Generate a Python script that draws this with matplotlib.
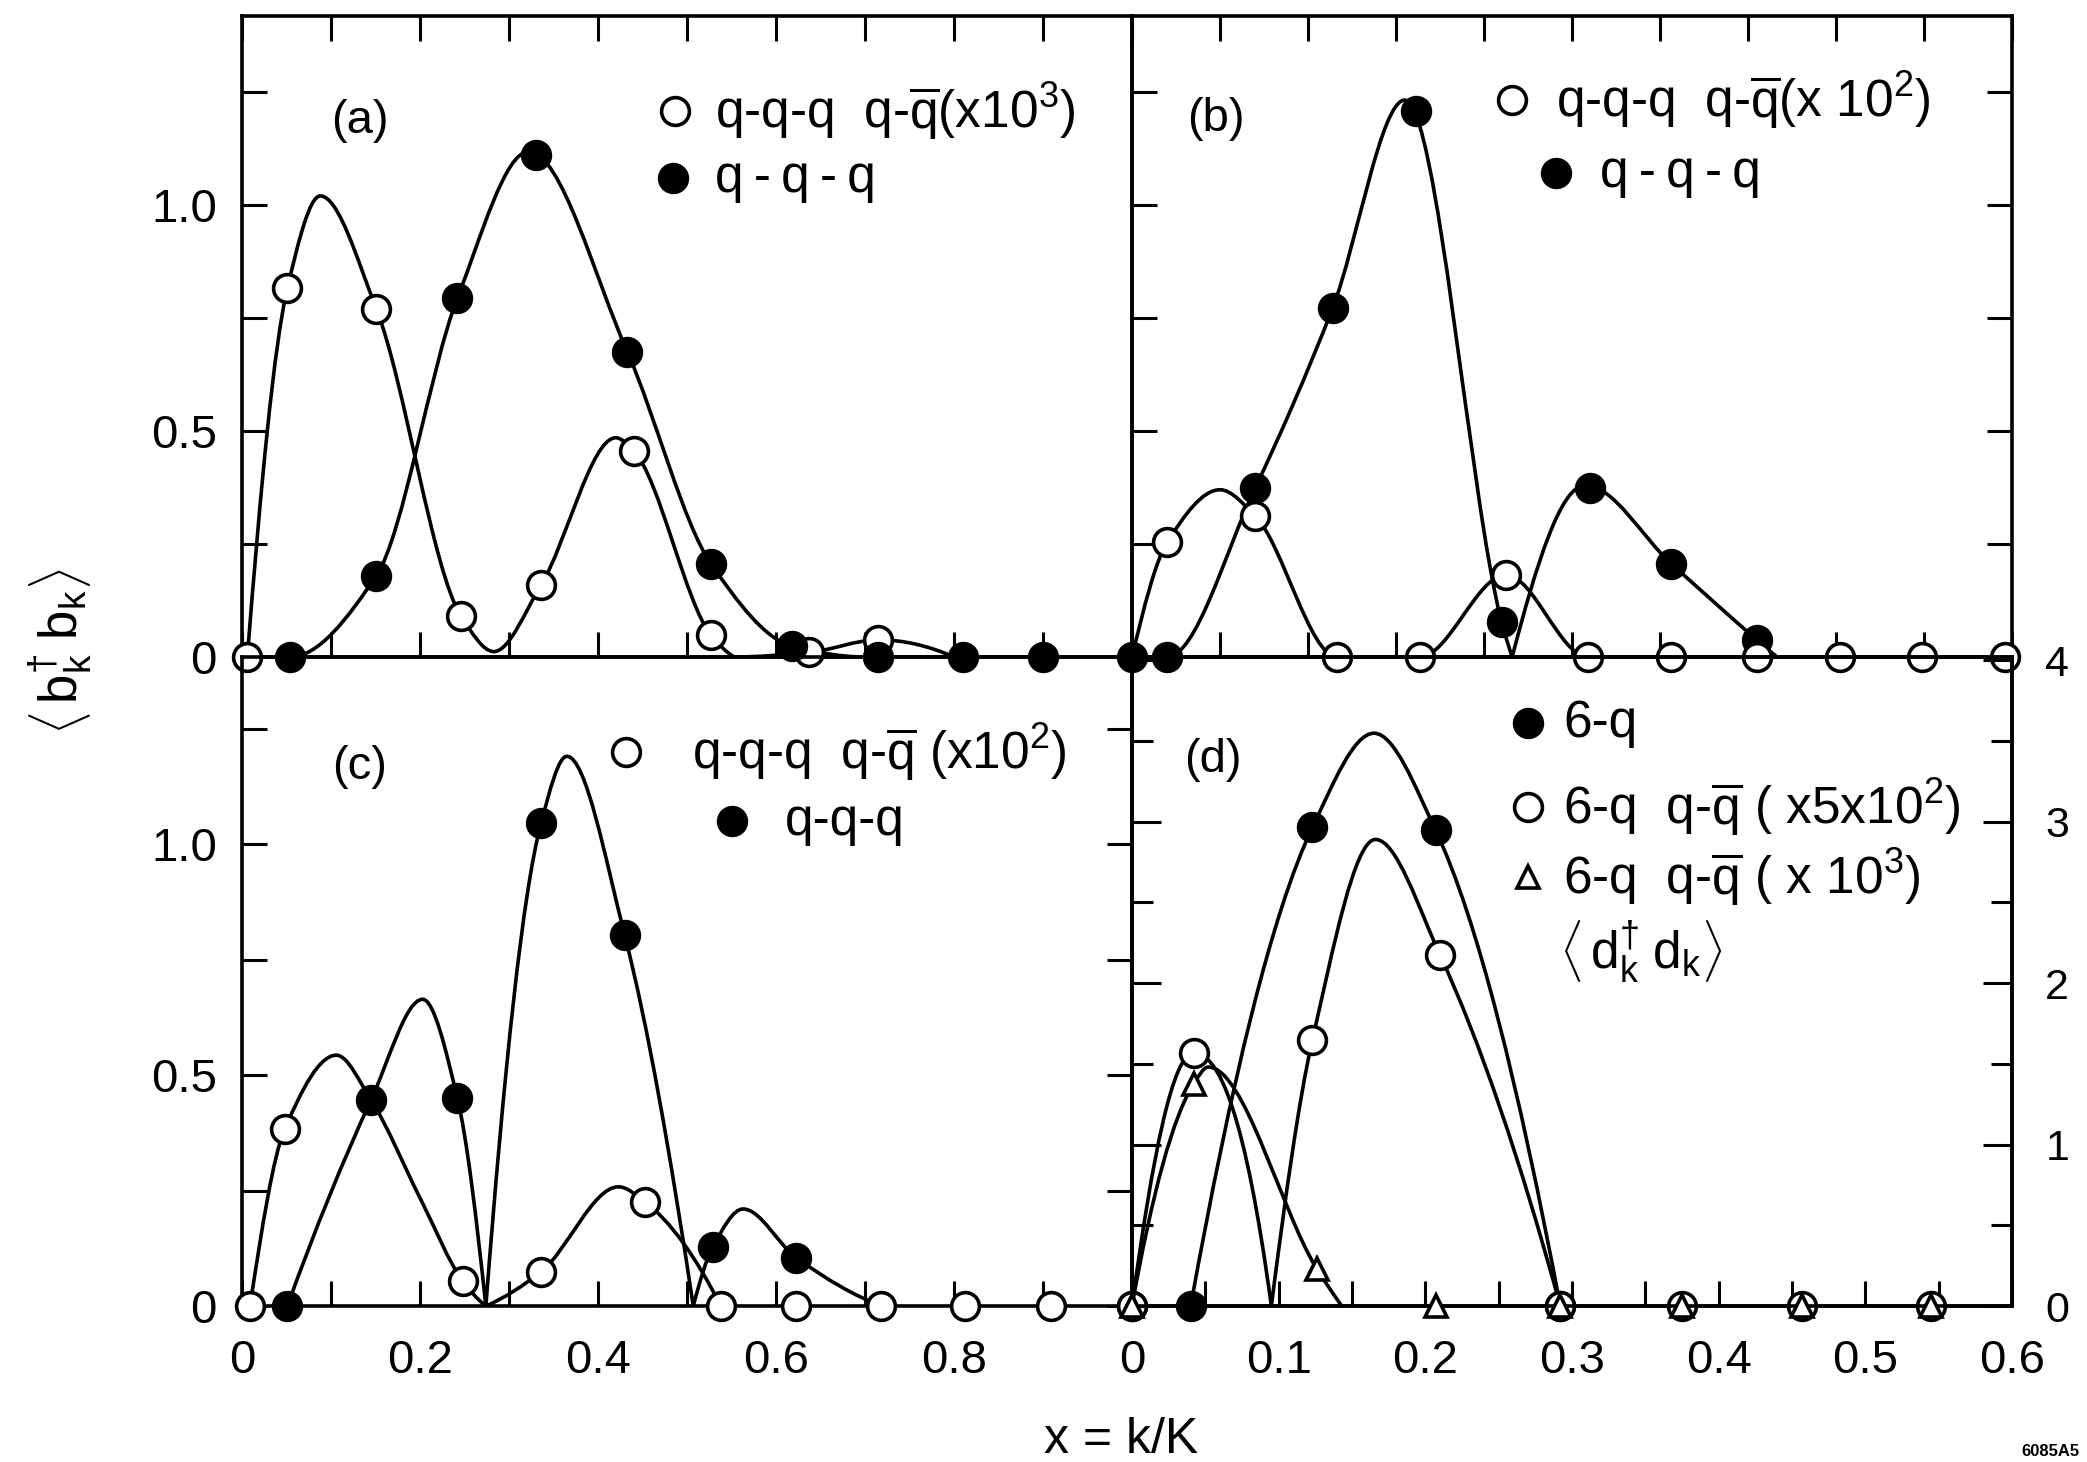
import numpy as np
import matplotlib
matplotlib.use('Agg')
import matplotlib.pyplot as plt
from matplotlib.path import Path
from matplotlib.patches import PathPatch

plt.rcParams['font.family'] = ['Liberation Sans', 'DejaVu Sans']
plt.rcParams['mathtext.fontset'] = 'custom'
plt.rcParams['mathtext.rm'] = 'Liberation Sans'
plt.rcParams['mathtext.it'] = 'Liberation Sans'
plt.rcParams['mathtext.sf'] = 'Liberation Sans'
plt.rcParams['mathtext.default'] = 'regular'

# ---- panel (a): x = k/K from 0 to 1 ----
a_open_x = [0.006, 0.051, 0.151, 0.246, 0.336, 0.44, 0.527, 0.637, 0.715]
a_open_y = [0.0, 0.816, 0.77, 0.091, 0.159, 0.456, 0.048, 0.01, 0.038]
a_open_cx = [0.006, 0.051, 0.088, 0.151, 0.246, 0.283, 0.336, 0.42, 0.44, 0.527, 0.553, 0.637, 0.715, 0.80]
a_open_cy = [0.0, 0.816, 1.02, 0.77, 0.091, 0.012, 0.159, 0.485, 0.456, 0.048, 0.0, 0.01, 0.038, 0.0]
a_fill_x = [0.054, 0.151, 0.242, 0.33, 0.433, 0.527, 0.618, 0.715, 0.81, 0.90]
a_fill_y = [0.0, 0.18, 0.794, 1.11, 0.675, 0.206, 0.024, 0.0, 0.0, 0.0]
a_fill_cx = [0.054, 0.151, 0.242, 0.322, 0.433, 0.527, 0.618, 0.70, 0.90]
a_fill_cy = [0.0, 0.18, 0.794, 1.118, 0.675, 0.206, 0.024, 0.0, 0.0]

# ---- panel (b) ----
b_open_x = [0.04, 0.14, 0.233, 0.327, 0.425, 0.518, 0.612, 0.71, 0.805, 0.898, 0.992]
b_open_y = [0.254, 0.312, 0.0, 0.0, 0.182, 0.0, 0.0, 0.0, 0.0, 0.0, 0.0]
b_open_cx = [0.0, 0.04, 0.1, 0.14, 0.233, 0.327, 0.425, 0.518, 0.992]
b_open_cy = [0.0, 0.254, 0.37, 0.312, 0.0, 0.0, 0.182, 0.0, 0.0]
b_fill_x = [0.0, 0.04, 0.14, 0.228, 0.323, 0.42, 0.52, 0.613, 0.71]
b_fill_y = [0.0, 0.0, 0.374, 0.772, 1.208, 0.077, 0.374, 0.206, 0.038]
b_fill_cx = [0.0, 0.04, 0.14, 0.228, 0.31, 0.42, 0.432, 0.515, 0.613, 0.71, 0.733]
b_fill_cy = [0.0, 0.0, 0.374, 0.772, 1.232, 0.077, 0.0, 0.38, 0.206, 0.038, 0.0]

# ---- panel (c) ----
c_open_x = [0.009, 0.048, 0.248, 0.336, 0.453, 0.538, 0.623, 0.718, 0.812, 0.909]
c_open_y = [0.0, 0.383, 0.054, 0.074, 0.225, 0.0, 0.0, 0.0, 0.0, 0.0]
c_open_cx = [0.009, 0.048, 0.106, 0.145, 0.2, 0.248, 0.274, 0.336, 0.423, 0.453, 0.538]
c_open_cy = [0.0, 0.383, 0.543, 0.446, 0.234, 0.054, 0.0, 0.074, 0.258, 0.225, 0.0]
c_fill_x = [0.051, 0.145, 0.242, 0.336, 0.43, 0.529, 0.623]
c_fill_y = [0.0, 0.446, 0.45, 1.045, 0.803, 0.128, 0.104]
c_fill_cx = [0.051, 0.145, 0.203, 0.242, 0.274, 0.336, 0.365, 0.43, 0.507, 0.529, 0.563, 0.623, 0.72]
c_fill_cy = [0.0, 0.446, 0.664, 0.45, 0.0, 1.045, 1.19, 0.803, 0.0, 0.128, 0.21, 0.104, 0.0]

# ---- panel (d): x from 0 to 0.6, triangles on the right scale (0-4) ----
d_fill_x = [0.0, 0.04, 0.123, 0.207, 0.292]
d_fill_y = [0.0, 0.0, 1.036, 1.03, 0.0]
d_fill_cx = [0.04, 0.123, 0.165, 0.207, 0.292]
d_fill_cy = [0.0, 1.036, 1.24, 1.03, 0.0]
d_open_x = [0.0, 0.042, 0.123, 0.21, 0.292, 0.375, 0.457, 0.545]
d_open_y = [0.0, 0.548, 0.576, 0.76, 0.0, 0.0, 0.0, 0.0]
d_open_cx = [0.0, 0.042, 0.095, 0.123, 0.166, 0.21, 0.292]
d_open_cy = [0.0, 0.548, 0.0, 0.576, 1.01, 0.76, 0.0]
d_tri_x = [0.0, 0.042, 0.126, 0.207, 0.292, 0.375, 0.457, 0.545]
d_tri_y = [0.0, 1.375, 0.23, 0.0, 0.0, 0.0, 0.0, 0.0]
d_tri_cx = [0.0, 0.042, 0.052, 0.126, 0.143]
d_tri_cy = [0.0, 1.375, 1.48, 0.23, 0.0]

LW = 2.6
MS = 20


def end_slope(h0, h1, d0, d1):
    m = ((2 * h0 + h1) * d0 - h0 * d1) / (h0 + h1)
    if np.sign(m) != np.sign(d0):
        return 0.0
    if np.sign(d0) != np.sign(d1) and abs(m) > 3 * abs(d0):
        return 3 * d0
    return m


def slopes(x, y):
    # monotone cubic (Fritsch-Carlson) tangents
    h = np.diff(x)
    d = np.diff(y) / h
    n = len(x)
    if n == 2:
        return np.array([d[0], d[0]])
    m = np.zeros(n)
    for k in range(1, n - 1):
        if d[k - 1] * d[k] > 0:
            w1 = 2 * h[k] + h[k - 1]
            w2 = h[k] + 2 * h[k - 1]
            m[k] = (w1 + w2) / (w1 / d[k - 1] + w2 / d[k])
    m[0] = end_slope(h[0], h[1], d[0], d[1])
    m[-1] = end_slope(h[-1], h[-2], d[-1], d[-2])
    return m


def smooth_curve(ax, cx, cy):
    x = np.asarray(cx, float)
    y = np.asarray(cy, float)
    # break at zeros that sit between two positive values (sharp V)
    cuts = [0]
    for k in range(1, len(x) - 1):
        if y[k] == 0 and y[k - 1] > 0 and y[k + 1] > 0:
            cuts.append(k)
    cuts.append(len(x) - 1)
    verts = [(x[0], y[0])]
    codes = [Path.MOVETO]
    for i0, i1 in zip(cuts[:-1], cuts[1:]):
        px, py = x[i0:i1 + 1], y[i0:i1 + 1]
        m = slopes(px, py)
        for k in range(len(px) - 1):
            h = px[k + 1] - px[k]
            verts += [(px[k] + h / 3, py[k] + m[k] * h / 3),
                      (px[k + 1] - h / 3, py[k + 1] - m[k + 1] * h / 3),
                      (px[k + 1], py[k + 1])]
            codes += [Path.CURVE4] * 3
    ax.add_patch(PathPatch(Path(verts, codes), fill=False, lw=LW,
                           ec='black', zorder=2, capstyle='round'))


def points(ax, x, y, marker='o', filled=False, ms=MS):
    ax.plot(x, y, ls='none', marker=marker, ms=ms,
            mfc='black' if filled else 'white', mec='black', mew=LW,
            clip_on=False, zorder=3)


def key(ax, x, y, marker='o', filled=False, ms=MS):
    ax.plot([x], [y], ls='none', marker=marker, ms=ms,
            mfc='black' if filled else 'white', mec='black', mew=LW,
            transform=ax.transAxes, clip_on=False)


fig = plt.figure(figsize=(20.87, 14.62), dpi=100)
W, H = 2087.0, 1462.0
L, M, R = 242 / W, 1132 / W, 2012 / W
YT, YM, YB = 1 - 16 / H, 1 - 657 / H, 1 - 1306 / H
ax_a = fig.add_axes([L, YM, M - L, YT - YM])
ax_b = fig.add_axes([M, YM, R - M, YT - YM])
ax_c = fig.add_axes([L, YB, M - L, YM - YB])
ax_d = fig.add_axes([M, YB, R - M, YM - YB])

for ax in (ax_a, ax_b, ax_c, ax_d):
    ax.patch.set_visible(False)
    for s in ax.spines.values():
        s.set_linewidth(LW)
ax_a.set_ylim(0, 1.418)
ax_b.set_ylim(0, 1.418)
ax_c.set_ylim(0, 1.405)
ax_d.set_ylim(0, 1.405)
for ax in (ax_a, ax_b, ax_c):
    ax.set_xlim(0, 1.0)
ax_d.set_xlim(0, 0.6)

tick_kw = dict(direction='in', length=18, width=2.2)
yt = np.arange(0, 1.3, 0.25)
xt = np.arange(0, 1.01, 0.1)
ylab = ['0', '', '0.5', '', '1.0', '']
TS = 34

# (a)
ax_a.set_yticks(yt, ylab)
ax_a.set_xticks(xt, [])
ax_a.tick_params(which='both', left=True, right=False, top=True, bottom=True,
                 labelsize=TS, pad=18, **tick_kw)
# (b)
ax_b.set_yticks(yt, [])
ax_b.set_xticks(xt, [])
ax_b.tick_params(which='both', left=True, right=True, top=True, bottom=True, **tick_kw)
# (c)
ax_c.set_yticks(yt, ylab)
ax_c.set_xticks(xt, ['0', '', '0.2', '', '0.4', '', '0.6', '', '0.8', '', ''])
ax_c.tick_params(which='both', left=True, right=True, top=False, bottom=True, **tick_kw)
ax_c.tick_params(axis='y', labelsize=TS, pad=18)
ax_c.tick_params(axis='x', labelsize=TS, pad=24)
# (d)
ax_d.set_xticks(np.arange(0, 0.61, 0.1), ['0', '0.1', '0.2', '0.3', '0.4', '0.5', '0.6'])
ax_d.set_xticks(np.arange(0.05, 0.6, 0.1), minor=True)
ax_d.set_yticks([])
ax_d.tick_params(axis='x', which='both', top=False, bottom=True, labelsize=TS, pad=24, **tick_kw)
ax_r = ax_d.twinx()
ax_r.set_ylim(0, 4.02)
ax_r.set_yticks([0, 1, 2, 3, 4], ['0', '1', '2', '3', '4'])
ax_r.set_yticks(np.arange(0.5, 4, 1.0), minor=True)
ax_r.yaxis.set_ticks_position('both')
ax_r.tick_params(axis='y', which='major', direction='in', length=21, width=2.2,
                 labelleft=False, labelright=True, labelsize=31, pad=24)
ax_r.tick_params(axis='y', which='minor', direction='in', length=15, width=2.2)
for s in ax_r.spines.values():
    s.set_linewidth(LW)

# curves and points
smooth_curve(ax_a, a_open_cx, a_open_cy)
smooth_curve(ax_a, a_fill_cx, a_fill_cy)
points(ax_a, a_open_x, a_open_y)
points(ax_a, a_fill_x, a_fill_y, filled=True)

smooth_curve(ax_b, b_open_cx, b_open_cy)
smooth_curve(ax_b, b_fill_cx, b_fill_cy)
points(ax_b, b_fill_x, b_fill_y, filled=True)
points(ax_b, b_open_x, b_open_y)

smooth_curve(ax_c, c_open_cx, c_open_cy)
smooth_curve(ax_c, c_fill_cx, c_fill_cy)
points(ax_c, c_open_x, c_open_y)
points(ax_c, c_fill_x, c_fill_y, filled=True)

smooth_curve(ax_d, d_fill_cx, d_fill_cy)
smooth_curve(ax_d, d_open_cx, d_open_cy)
smooth_curve(ax_r, d_tri_cx, d_tri_cy)
points(ax_d, d_fill_x, d_fill_y, filled=True)
points(ax_d, d_open_x, d_open_y)
points(ax_r, d_tri_x, d_tri_y, marker='^', ms=16)

# panel tags and keys
FS = 37
PS = 34
qbar = r'q-$\overline{q}$'
thin = 'q\u2009-\u2009q\u2009-\u2009q'
ax_a.text(0.132, 0.836, '(a)', transform=ax_a.transAxes, fontsize=PS, ha='center', va='center')
key(ax_a, 0.487, 0.852)
ax_a.text(0.532, 0.852, 'q-q-q  ' + qbar + r'(x10$^3$)', transform=ax_a.transAxes, fontsize=FS, va='center')
key(ax_a, 0.484, 0.747, filled=True)
ax_a.text(0.532, 0.747, thin, transform=ax_a.transAxes, fontsize=FS, va='center')

ax_b.text(0.095, 0.839, '(b)', transform=ax_b.transAxes, fontsize=PS, ha='center', va='center')
key(ax_b, 0.432, 0.869)
ax_b.text(0.482, 0.869, 'q-q-q  ' + qbar + r'(x 10$^2$)', transform=ax_b.transAxes, fontsize=FS, va='center')
key(ax_b, 0.482, 0.755, filled=True)
ax_b.text(0.532, 0.755, thin, transform=ax_b.transAxes, fontsize=FS, va='center')

ax_c.text(0.132, 0.830, '(c)', transform=ax_c.transAxes, fontsize=PS, ha='center', va='center')
key(ax_c, 0.432, 0.854)
ax_c.text(0.506, 0.854, 'q-q-q  ' + qbar + r' (x10$^2$)', transform=ax_c.transAxes, fontsize=FS, va='center')
key(ax_c, 0.551, 0.747, filled=True)
ax_c.text(0.61, 0.747, 'q-q-q', transform=ax_c.transAxes, fontsize=FS, va='center')

ax_d.text(0.092, 0.841, '(d)', transform=ax_d.transAxes, fontsize=PS, ha='center', va='center')
key(ax_d, 0.45, 0.898, filled=True)
ax_d.text(0.49, 0.898, '6-q', transform=ax_d.transAxes, fontsize=FS, va='center')
key(ax_d, 0.45, 0.769)
ax_d.text(0.49, 0.769, '6-q  ' + qbar + r' ( x5x10$^2$)', transform=ax_d.transAxes, fontsize=FS, va='center')
key(ax_d, 0.45, 0.661, marker='^', ms=16)
ax_d.text(0.49, 0.661, '6-q  ' + qbar + r' ( x 10$^3$)', transform=ax_d.transAxes, fontsize=FS, va='center')
ax_d.text(0.485, 0.545, r'$\left\langle\, d_k^{\dagger}\; d_k \right\rangle$', transform=ax_d.transAxes,
          fontsize=FS, va='center')

# axis titles
fig.text(60 / W, 1 - 652 / H, r'$\left\langle\, b_k^{\dagger}\; b_k \right\rangle$', rotation=90,
         fontsize=38, ha='center', va='center')
fig.text(1121 / W, 1 - 1440 / H, 'x = k/K', fontsize=36, ha='center', va='center')
fig.text(2050 / W, 1 - 1451 / H, '6085A5', fontsize=12, ha='center', va='center', weight='bold')

fig.savefig('out.png', dpi=100)
